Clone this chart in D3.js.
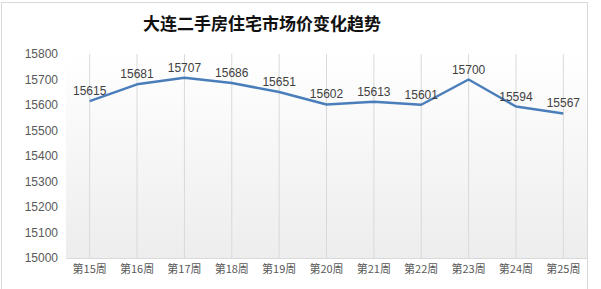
<!DOCTYPE html>
<html>
<head>
<meta charset="utf-8">
<script src="https://cdn.jsdelivr.net/npm/d3@7"></script>
<style>
  body { margin: 0; background: #fff; }
  svg { display: block; }
</style>
</head>
<body>
<div id="chart"></div>
<script>
const weeks = ["第15周", "第16周", "第17周", "第18周", "第19周", "第20周", "第21周", "第22周", "第23周", "第24周", "第25周"];
const prices = [15615, 15681, 15707, 15686, 15651, 15602, 15613, 15601, 15700, 15594, 15567];
const yTicks = [15000, 15100, 15200, 15300, 15400, 15500, 15600, 15700, 15800];

const W = 601, H = 289;
const margin = { top: 54, right: 14, bottom: 31, left: 66 },
  width = W - margin.left - margin.right,
  height = H - margin.top - margin.bottom;

const root = d3.select("#chart").append("svg")
  .attr("width", W)
  .attr("height", H);

// gradient for plot background
const defs = root.append("defs");
const grad = defs.append("linearGradient")
  .attr("id", "bg")
  .attr("x1", 0).attr("y1", 0).attr("x2", 0).attr("y2", 1);
grad.append("stop").attr("offset", "0%").attr("stop-color", "#ffffff");
grad.append("stop").attr("offset", "100%").attr("stop-color", "#ededed");

// chart border
root.append("rect")
  .attr("x", 1.5).attr("y", 2.5)
  .attr("width", 586).attr("height", 290)
  .attr("fill", "#fff")
  .attr("stroke", "#d9d9d9");

// title
root.append("text")
  .attr("x", 262)
  .attr("y", 30)
  .attr("text-anchor", "middle")
  .style("font-family", "'Noto Sans CJK SC', sans-serif")
  .style("font-weight", "bold")
  .style("font-size", "17px")
  .style("fill", "#111")
  .text("大连二手房住宅市场价变化趋势");

const svg = root.append("g")
  .attr("transform", `translate(${margin.left},${margin.top})`);

const x = d3.scaleBand().domain(weeks).range([0, width]);
const y = d3.scaleLinear().domain([15000, 15800]).range([height, 0]);

svg.append("rect")
  .attr("width", width)
  .attr("height", height)
  .attr("fill", "url(#bg)");

// vertical grid lines at category centers
svg.append("g")
  .selectAll("line")
  .data(weeks)
  .join("line")
  .attr("x1", d => x(d) + x.bandwidth() / 2)
  .attr("x2", d => x(d) + x.bandwidth() / 2)
  .attr("y1", 0)
  .attr("y2", height)
  .attr("stroke", "#d9d9d9");

// x axis
const xAxis = svg.append("g")
  .attr("transform", `translate(0,${height})`)
  .call(d3.axisBottom(x).tickSize(0).tickPadding(7));
xAxis.select(".domain").attr("stroke", "#d9d9d9");
xAxis.selectAll("text")
  .style("font-family", "'Noto Sans CJK SC', sans-serif")
  .style("font-size", "11px")
  .style("fill", "#595959");

// y axis
const yAxis = svg.append("g")
  .call(d3.axisLeft(y).tickValues(yTicks).tickSize(0).tickPadding(8).tickFormat(d3.format("d")));
yAxis.select(".domain").remove();
yAxis.selectAll("text")
  .style("font-family", "Arial, 'Liberation Sans', sans-serif")
  .style("font-size", "12px")
  .style("fill", "#595959");

const cx = d => x(d) + x.bandwidth() / 2;

// the line
const line = d3.line()
  .x((d, i) => cx(weeks[i]))
  .y(d => y(d));

svg.append("path")
  .datum(prices)
  .attr("fill", "none")
  .attr("stroke", "#4a7ebb")
  .attr("stroke-width", 2.5)
  .attr("stroke-linejoin", "round")
  .attr("d", line);

// data labels
svg.append("g")
  .selectAll("text")
  .data(prices)
  .join("text")
  .attr("x", (d, i) => cx(weeks[i]))
  .attr("y", d => y(d) - 6)
  .attr("text-anchor", "middle")
  .style("font-family", "'Liberation Sans', Arial, sans-serif")
  .style("font-size", "12px")
  .style("fill", "#404040")
  .text(d => d);
</script>
</body>
</html>
